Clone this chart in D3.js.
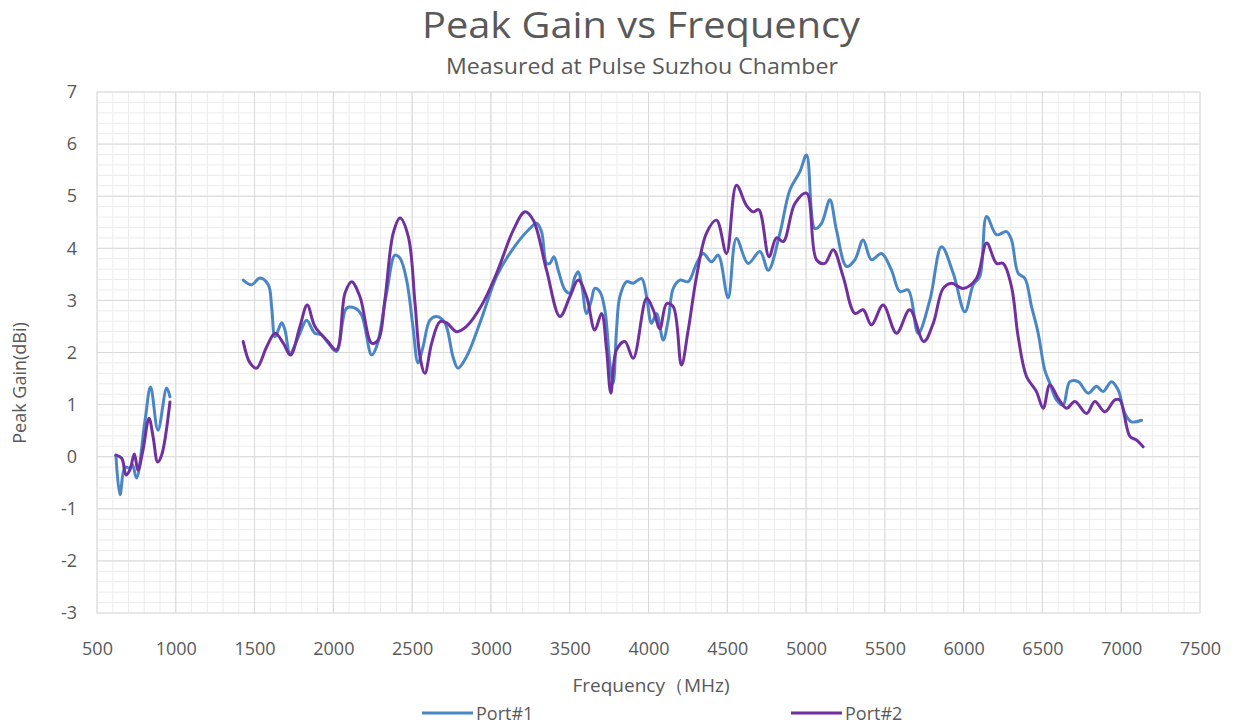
<!DOCTYPE html>
<html>
<head>
<meta charset="utf-8">
<script src="https://cdn.jsdelivr.net/npm/d3@7"></script>
<style>
  body { margin: 0; background: #fff; }
  svg text { font-family: "Liberation Sans Narrow", "Open Sans", sans-serif; fill: #595959; }
</style>
</head>
<body>
<svg></svg>
<script>
const port1Freq = [620, 646, 678, 709, 725, 751, 805, 840, 887, 942, 963, null,
  1428, 1481, 1534, 1587, 1609, 1630, 1672, 1693, 1725, 1788, 1830, 1883, 1925, 1968, 2020, 2084, 2137, 2179, 2243, 2274,
  2338, 2391, 2423, 2465, 2505, 2537, 2569, 2613, 2655, 2708, 2759, 2791, 2845, 2940, 3036, 3142, 3247, 3290, 3321, 3353,
  3374, 3400, 3427, 3470, 3501, 3533, 3554, 3575, 3607, 3638, 3659, 3691, 3723, 3755, 3776, 3797, 3818, 3861, 3903, 3956,
  3988, 4019, 4051, 4093, 4125, 4157, 4199, 4252, 4305, 4347, 4400, 4442, 4505, 4558, 4632, 4707, 4760, 4834, 4897, 4961,
  5003, 5056, 5098, 5151, 5193, 5257, 5310, 5362, 5415, 5479, 5542, 5595, 5648, 5711, 5786, 5860, 5934, 6008, 6061, 6103,
  6146, 6209, 6272, 6304, 6346, 6389, 6431, 6473, 6515, 6547, 6589, 6631, 6674, 6727, 6790, 6843, 6885, 6938, 6981, 7023,
  7065, 7129];
const port1Gain = [0.03, -0.73, -0.2, -0.22, -0.15, -0.41, 0.7, 1.34, 0.51, 1.32, 1.15, null,
  3.39, 3.30, 3.43, 3.30, 2.85, 2.30, 2.57, 2.43, 1.99, 2.37, 2.62, 2.37, 2.34, 2.18, 2.02, 2.85, 2.85, 2.72, 1.95, 2.11,
  3.14, 3.87, 3.81, 3.39, 2.50, 1.80, 2.11, 2.62, 2.69, 2.57, 1.92, 1.70, 1.92, 2.65, 3.46, 4.00, 4.38, 4.48, 4.32, 3.71,
  3.71, 3.84, 3.58, 3.20, 3.14, 3.45, 3.55, 3.33, 2.75, 3.01, 3.23, 3.17, 2.82, 1.79, 1.41, 2.43, 3.07, 3.36, 3.33, 3.42,
  3.07, 2.56, 2.75, 2.24, 2.62, 3.23, 3.39, 3.36, 3.71, 3.90, 3.74, 3.87, 3.05, 4.19, 3.71, 3.94, 3.58, 4.29, 5.12, 5.47,
  5.79, 4.38, 4.48, 4.93, 4.35, 3.65, 3.78, 4.16, 3.78, 3.90, 3.58, 3.17, 3.20, 2.37, 3.01, 4.03, 3.52, 2.78, 3.30, 3.46,
  4.61, 4.26, 4.32, 4.16, 3.52, 3.42, 2.88, 2.37, 1.66, 1.41, 1.09, 0.99, 1.44, 1.44, 1.22, 1.35, 1.25, 1.44, 1.28, 0.83,
  0.67, 0.70];

const port2Freq = [620, 657, 684, 709, 737, 760, 792, 830, 856, 885, 910, 963, null,
  1428, 1471, 1513, 1577, 1630, 1682, 1728, 1788, 1834, 1883, 1957, 2020, 2074, 2116, 2169, 2243, 2285, 2327, 2380, 2423,
  2476, 2518, 2550, 2581, 2624, 2676, 2719, 2782, 2845, 2940, 3036, 3142, 3216, 3269, 3353, 3438, 3501, 3554, 3607, 3659,
  3702, 3734, 3761, 3797, 3850, 3903, 3988, 4030, 4072, 4115, 4157, 4209, 4252, 4305, 4368, 4432, 4495, 4558, 4622, 4664,
  4700, 4765, 4812, 4855, 4929, 5003, 5066, 5119, 5172, 5235, 5310, 5362, 5415, 5489, 5574, 5658, 5747, 5807, 5870, 5923,
  5997, 6081, 6146, 6209, 6251, 6304, 6346, 6399, 6462, 6505, 6547, 6600, 6653, 6706, 6780, 6833, 6896, 6960, 6991, 7055,
  7097, 7139];
const port2Gain = [0.03, -0.03, -0.35, -0.25, 0.05, -0.26, 0.13, 0.74, 0.38, -0.1, 0.03, 1.05, null,
  2.21, 1.80, 1.70, 2.11, 2.37, 2.18, 1.95, 2.50, 2.91, 2.50, 2.24, 2.05, 3.14, 3.36, 3.07, 2.18, 2.24, 3.01, 4.29, 4.58,
  4.22, 2.95, 1.92, 1.60, 2.18, 2.59, 2.57, 2.40, 2.50, 2.90, 3.52, 4.35, 4.70, 4.54, 3.58, 2.69, 3.07, 3.39, 3.07, 2.43,
  2.75, 2.05, 1.22, 2.05, 2.21, 1.89, 3.04, 2.82, 2.46, 2.94, 2.88, 1.76, 2.43, 3.46, 4.29, 4.54, 3.90, 5.21, 4.82, 4.70,
  4.74, 3.84, 4.20, 4.13, 4.86, 5.06, 3.78, 3.71, 3.97, 3.46, 2.75, 2.82, 2.53, 2.91, 2.37, 2.82, 2.21, 2.56, 3.23, 3.33,
  3.23, 3.42, 4.10, 3.71, 3.71, 3.26, 2.30, 1.54, 1.25, 0.93, 1.38, 1.12, 0.93, 1.06, 0.83, 1.06, 0.86, 1.09, 1.09, 0.39,
  0.32, 0.19];

const seriesNames = ["Port#1", "Port#2"];
const seriesColors = ["#4a86c6", "#7030a0"];
const xTicks = [500, 1000, 1500, 2000, 2500, 3000, 3500, 4000, 4500, 5000, 5500, 6000, 6500, 7000, 7500];
const yTicks = [-3, -2, -1, 0, 1, 2, 3, 4, 5, 6, 7];

window.onload = function () {
    const width = 1236;
    const height = 727;
    const margin = { top: 92, right: 36, bottom: 114, left: 97 };
    const innerWidth = width - margin.left - margin.right;
    const innerHeight = height - margin.top - margin.bottom;

    const svg = d3.select("svg")
        .attr("width", width)
        .attr("height", height);

    const xScale = d3.scaleLinear().domain([500, 7500]).range([0, innerWidth]);
    const yScale = d3.scaleLinear().domain([-3, 7]).range([innerHeight, 0]);

    const g = svg.append("g")
        .attr("transform", `translate(${margin.left}, ${margin.top})`);

    // Rejilla menor
    g.append("g").selectAll("line")
        .data(d3.range(500, 7501, 100))
        .join("line")
        .attr("x1", d => xScale(d)).attr("x2", d => xScale(d))
        .attr("y1", 0).attr("y2", innerHeight)
        .attr("stroke", "#ececec");
    g.append("g").selectAll("line")
        .data(d3.range(-30, 71, 2).map(d => d / 10))
        .join("line")
        .attr("x1", 0).attr("x2", innerWidth)
        .attr("y1", d => yScale(d)).attr("y2", d => yScale(d))
        .attr("stroke", "#ececec");

    // Rejilla mayor
    g.append("g").selectAll("line")
        .data(xTicks)
        .join("line")
        .attr("x1", d => xScale(d)).attr("x2", d => xScale(d))
        .attr("y1", 0).attr("y2", innerHeight)
        .attr("stroke", "#d9d9d9");
    g.append("g").selectAll("line")
        .data(yTicks)
        .join("line")
        .attr("x1", 0).attr("x2", innerWidth)
        .attr("y1", d => yScale(d)).attr("y2", d => yScale(d))
        .attr("stroke", "#d9d9d9");

    // Ejes (solo etiquetas, con guion normal en los negativos)
    const xAxis = g.append("g")
        .attr("transform", `translate(0, ${innerHeight})`)
        .call(d3.axisBottom(xScale).tickValues(xTicks).tickSize(0).tickPadding(29).tickFormat(d => String(d)));
    xAxis.select(".domain").remove();
    xAxis.selectAll("text").style("font-size", "18px").attr("fill", "#595959");

    const yAxis = g.append("g")
        .call(d3.axisLeft(yScale).tickValues(yTicks).tickSize(0).tickPadding(20).tickFormat(d => String(d)));
    yAxis.select(".domain").remove();
    yAxis.selectAll("text").style("font-size", "18px").attr("fill", "#595959");

    // Líneas
    const series = [
        { freq: port1Freq, gain: port1Gain },
        { freq: port2Freq, gain: port2Gain }
    ];
    const line = d3.line()
        .defined(d => d[1] !== null)
        .x(d => xScale(d[0]))
        .y(d => yScale(d[1]))
        .curve(d3.curveCatmullRom.alpha(0.5));

    series.forEach((s, i) => {
        const pts = s.freq.map((f, k) => [f, s.gain[k]]);
        g.append("path")
            .datum(pts)
            .attr("fill", "none")
            .attr("stroke", seriesColors[i])
            .attr("stroke-width", 3)
            .attr("stroke-linejoin", "round")
            .attr("stroke-linecap", "round")
            .attr("d", line);
    });

    // Títulos
    svg.append("text")
        .attr("x", 641).attr("y", 38)
        .attr("text-anchor", "middle")
        .attr("textLength", 438)
        .attr("lengthAdjust", "spacingAndGlyphs")
        .style("font-size", "37px")
        .text("Peak Gain vs Frequency");

    svg.append("text")
        .attr("x", 642).attr("y", 74)
        .attr("text-anchor", "middle")
        .attr("textLength", 392)
        .attr("lengthAdjust", "spacingAndGlyphs")
        .style("font-size", "21px")
        .text("Measured at Pulse Suzhou Chamber");

    svg.append("text")
        .attr("x", 651).attr("y", 692)
        .attr("text-anchor", "middle")
        .style("font-size", "19px")
        .text("Frequency（MHz)");

    svg.append("text")
        .attr("transform", "translate(26, 383) rotate(-90)")
        .attr("text-anchor", "middle")
        .style("font-size", "18px")
        .text("Peak Gain(dBi)");

    // Leyenda
    const legendX = [422, 791];
    const legend = svg.selectAll(".legend")
        .data(seriesNames)
        .join("g")
        .attr("class", "legend")
        .attr("transform", (d, i) => `translate(${legendX[i]}, 713)`);
    legend.append("line")
        .attr("x1", 0).attr("x2", 51)
        .attr("stroke", (d, i) => seriesColors[i])
        .attr("stroke-width", 3);
    legend.append("text")
        .attr("x", 54).attr("y", 7)
        .style("font-size", "18px")
        .text(d => d);
};
</script>
</body>
</html>
